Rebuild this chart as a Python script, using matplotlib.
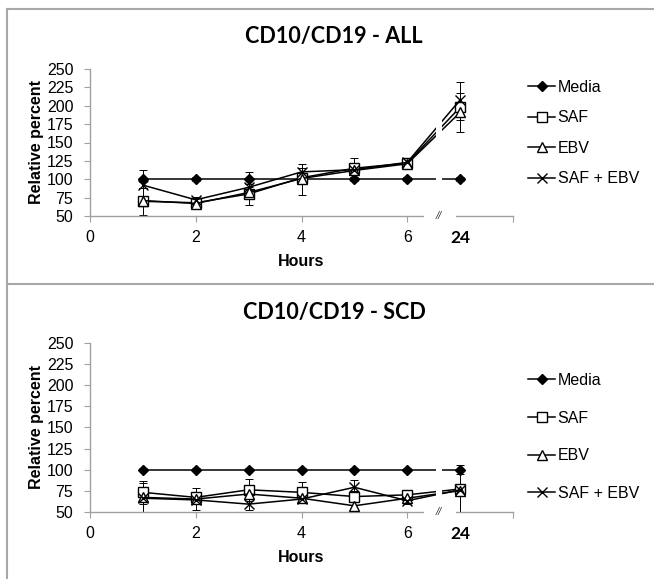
import matplotlib
matplotlib.use("Agg")
import matplotlib.pyplot as plt
from matplotlib.lines import Line2D
from matplotlib.patches import Rectangle

plt.rcParams['font.family'] = ['Liberation Sans', 'DejaVu Sans']

# ---------------- data ----------------
hours = [1, 2, 3, 4, 5, 6, 24]
series_names = ["Media", "SAF", "EBV", "SAF + EBV"]

all_media = [100, 100, 100, 100, 100, 100, 100]
all_saf = [70, 68, 80, 102, 115, 122, 198]
all_ebv = [71, 67, 82, 101, 112, 121, 191]
all_safebv = [92, 72, 89, 110, 113, 123, 208]
all_media_err = [12, 3, 10, 21, 3, 3, 3]
all_saf_err = [18, 4, 6, 5, 14, 4, 34]
all_ebv_err = [4, 4, 17, 5, 5, 4, 10]
all_safebv_err = [4, 4, 5, 5, 5, 4, 10]

scd_media = [100, 100, 100, 100, 100, 100, 100]
scd_saf = [73, 67, 76, 73, 68, 70, 77]
scd_ebv = [67, 65, 71, 66, 57, 66, 75]
scd_safebv = [66, 64, 59, 65, 79, 63, 76]
scd_media_err = [2, 2, 2, 2, 2, 2, 5]
scd_saf_err = [14, 4, 13, 12, 6, 5, 4]
scd_ebv_err = [17, 13, 5, 5, 5, 4, 26]
scd_safebv_err = [4, 4, 7, 5, 9, 4, 4]

x_tick_labels = ["0", "2", "4", "6"]
y_ticks = [50, 75, 100, 125, 150, 175, 200, 225, 250]


def hour_pos(h):
    # broken axis: 24 h is drawn one step after 6 h
    return 7 if h == 24 else h


W, H = 654, 579
fig = plt.figure(figsize=(W / 100, H / 100), dpi=100)
fig.patch.set_facecolor("white")

styles = [
    dict(marker="D", markerfacecolor="black", markeredgecolor="black", markersize=5.5),
    dict(marker="s", markerfacecolor="white", markeredgecolor="black", markersize=6.5, markeredgewidth=1.0),
    dict(marker="^", markerfacecolor="white", markeredgecolor="black", markersize=6.5, markeredgewidth=1.0),
    dict(marker="x", markeredgecolor="black", markersize=6.5, markeredgewidth=1.0),
]


def draw(ax, title, title_y_px, vals, errs, leg_top_px, leg_sp):
    xs = [hour_pos(h) for h in hours]
    handles = []
    for name, v, e, st in zip(series_names, vals, errs, styles):
        ax.errorbar(xs, v, yerr=e, fmt="none", ecolor="black", elinewidth=0.7,
                    capsize=3, capthick=0.7, zorder=2)
        ln, = ax.plot(xs, v, color="black", linewidth=1.1, zorder=3, label=name, **st)
        handles.append(ln)
    # gap in the data lines at the axis break
    ax.add_patch(Rectangle((6.55, 0), 0.1, 1, transform=ax.get_xaxis_transform(),
                           facecolor="white", edgecolor="none", zorder=3.5))
    # gap in the x-axis line
    ax.add_patch(Rectangle((6.32, -0.03), 0.6, 0.06, transform=ax.get_xaxis_transform(),
                           facecolor="white", edgecolor="none", zorder=4, clip_on=False))
    ax.text(6.6, 0.0, "//", transform=ax.get_xaxis_transform(), ha="center", va="center",
            fontsize=8, style="italic", color="#404040", zorder=5, clip_on=False)

    ax.set_xlim(0, 8)
    ax.set_ylim(50, 250)
    ax.set_yticks(y_ticks)
    ax.set_yticklabels([str(t) for t in y_ticks], fontsize=11.5)
    ax.set_xticks([0, 2, 4, 6, 8])
    ax.set_xticklabels(x_tick_labels + [""], fontsize=11.5)
    ax.set_xticks([7], minor=True)
    ax.set_xticklabels(["24"], minor=True, fontsize=12.5, fontweight="bold", family="Lato")
    ax.tick_params(axis="x", which="minor", length=0, pad=10)
    ax.tick_params(axis="x", which="major", length=4, color="#a0a0a0", pad=6)
    ax.tick_params(axis="y", length=4, color="#a0a0a0", pad=8)
    for s in ["top", "right"]:
        ax.spines[s].set_visible(False)
    for s in ["left", "bottom"]:
        ax.spines[s].set_color("#a0a0a0")
        ax.spines[s].set_linewidth(1.0)
    ax.set_xlabel("Hours", fontsize=11.5, fontweight="bold", labelpad=6)
    ax.set_ylabel("Relative percent", fontsize=11.5, fontweight="bold", labelpad=2)
    fig.text(334 / W, 1 - title_y_px / H, title, fontsize=15.5, fontweight="bold",
             family="Lato", ha="center", va="center")

    ax.legend(handles=handles, loc="upper left",
              bbox_to_anchor=(528 / W, 1 - leg_top_px / H), bbox_transform=fig.transFigure,
              frameon=False, fontsize=11.5, handlelength=1.7, handletextpad=0.15,
              borderpad=0, borderaxespad=0, labelspacing=leg_sp, numpoints=1)


ax1 = fig.add_axes([90 / W, 1 - 216 / H, 423 / W, 147 / H])
ax2 = fig.add_axes([90 / W, 1 - 511.7 / H, 423 / W, 168.4 / H])

draw(ax1, "CD10/CD19 - ALL", 37,
     [all_media, all_saf, all_ebv, all_safebv],
     [all_media_err, all_saf_err, all_ebv_err, all_safebv_err], 80, 0.97)
draw(ax2, "CD10/CD19 - SCD", 312,
     [scd_media, scd_saf, scd_ebv, scd_safebv],
     [scd_media_err, scd_saf_err, scd_ebv_err, scd_safebv_err], 373, 1.42)

# panel borders
bc = "#a8a8a8"
def fline(x0, y0, x1, y1):
    fig.add_artist(Line2D([x0 / W, x1 / W], [1 - y0 / H, 1 - y1 / H], color=bc, linewidth=1.5))

fline(7, 9, W, 9)
fline(7, 9, 7, H)
fline(7, 284, W, 284)

fig.savefig("out.png", dpi=100, facecolor="white")
